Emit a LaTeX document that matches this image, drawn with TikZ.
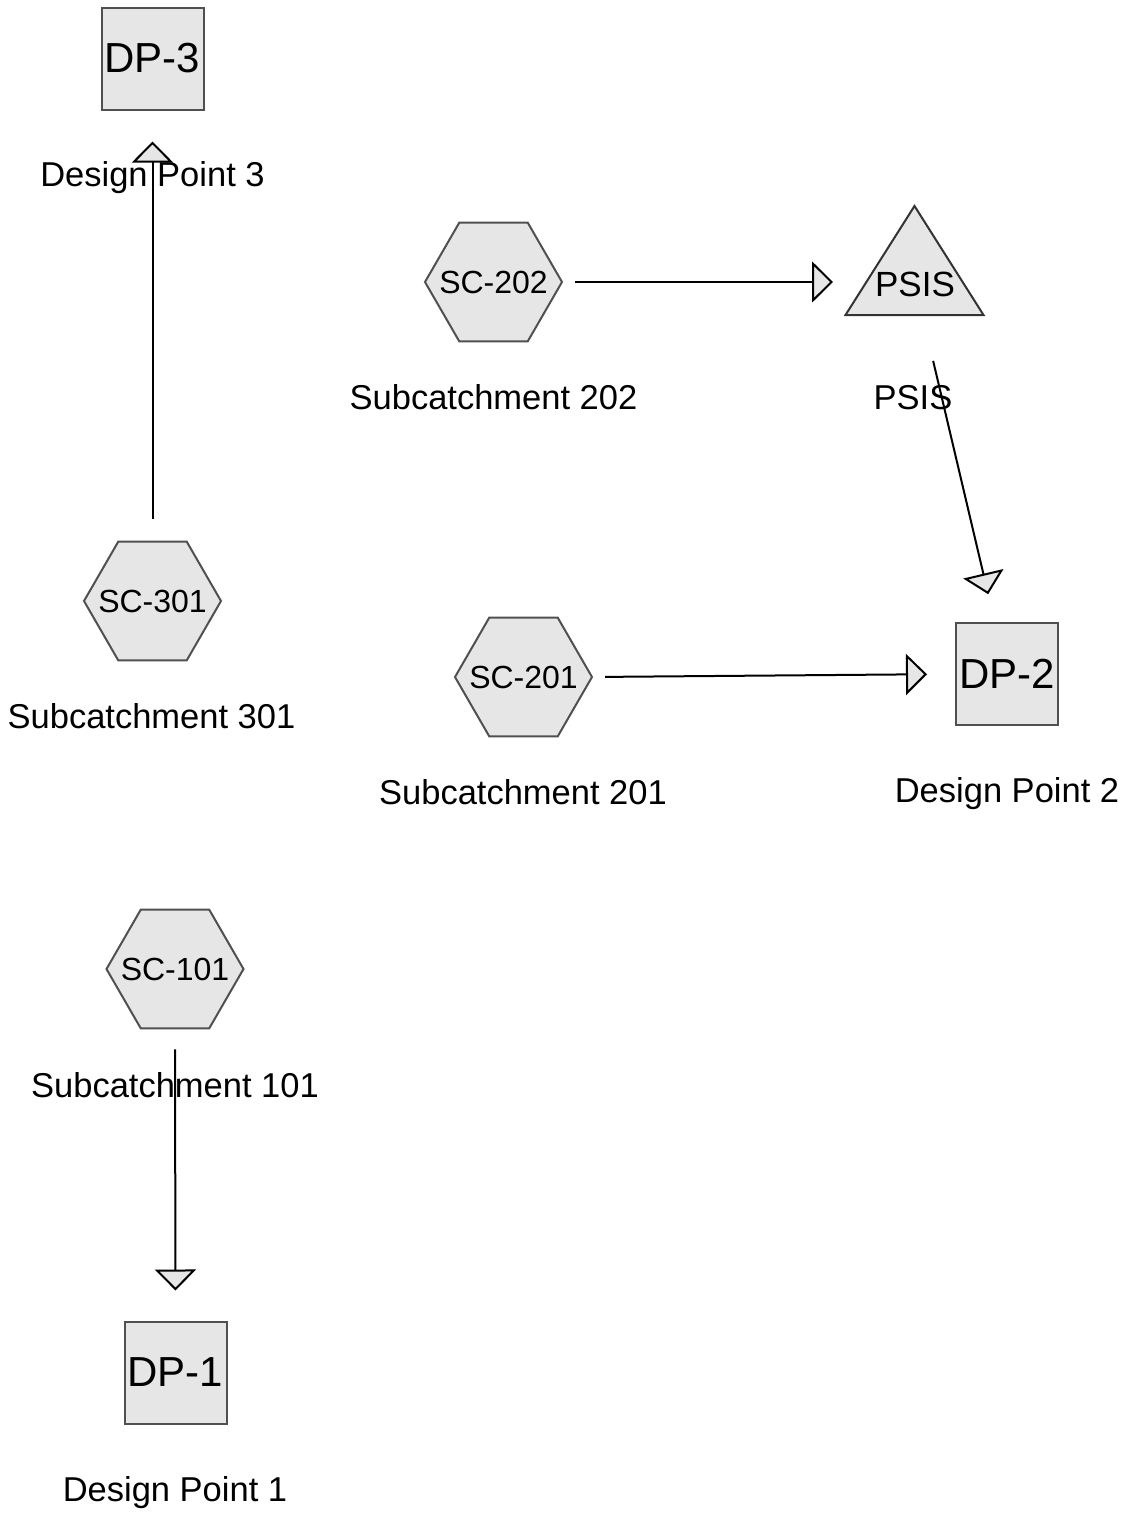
\documentclass[tikz,border=0pt]{standalone}
\usepackage{fontspec}
\setmainfont{Liberation Sans}
\usetikzlibrary{shapes.geometric,arrows.meta,calc}
\definecolor{shapefill}{HTML}{E6E6E6}
\definecolor{shapeline}{HTML}{505050}
\tikzset{
  dpbox/.style={draw=shapeline,fill=shapefill,line width=2pt,minimum size=102pt,inner sep=0pt,outer sep=0pt,font=\fontsize{42}{48}\selectfont},
  hexnode/.style={regular polygon,regular polygon sides=6,draw=shapeline,fill=shapefill,line width=2pt,minimum size=137pt,inner sep=0pt,outer sep=0pt,
    label={[font=\fontsize{32}{36}\selectfont,inner sep=0pt]center:#1}},
  lbl/.style={anchor=base,inner sep=0pt,font=\fontsize{34.5}{40}\selectfont},
  flow/.style={line width=2pt,draw=black,-{Triangle[length=21pt,width=41pt,fill=shapefill,line width=2pt]}},
}
\begin{document}
\begin{tikzpicture}[x=1pt,y=-1pt]
\useasboundingbox (0,0) rectangle (1127,1515);
% design points
\node[dpbox] (dp3) at (152.5,58.5) {DP-3};
\node[dpbox] (dp2) at (1007,674) {DP-2};
\node[dpbox] (dp1) at (175.5,1372.5) {DP-1};
% subcatchments
\node[hexnode=SC-202] (sc202) at (493.5,282) {};
\node[hexnode=SC-201] (sc201) at (523.5,677) {};
\node[hexnode=SC-301] (sc301) at (152.5,601) {};
\node[hexnode=SC-101] (sc101) at (175,969) {};
% PSIS triangle
\draw[draw=black!80,fill=shapefill,line width=2pt,line join=miter] (914.5,206) -- (983.5,315) -- (845.5,315) -- cycle;
\node[inner sep=0pt,font=\fontsize{35}{40}\selectfont] (psis) at (915,284) {PSIS};
% labels
\node[lbl] (l3) at (152.5,186) {Design Point 3};
\node[lbl] (l202) at (493.5,409) {Subcatchment 202};
\node[lbl] (lpsis) at (913,409) {PSIS};
\node[lbl] (l301) at (151.5,728) {Subcatchment 301};
\node[lbl] (l201) at (523,804) {Subcatchment 201};
\node[lbl] (l2) at (1007,802) {Design Point 2};
\node[lbl] (l101) at (175,1097) {Subcatchment 101};
\node[lbl] (l1) at (175,1501) {Design Point 1};
% connectors
\draw[flow,shorten <=23pt,shorten >=32pt] (sc301.north) -- (dp3.south);
\draw[flow,shorten <=13pt] (sc202.east) -- ($(sc202.east -| psis.center)+(-82,0)$);
\draw[flow,shorten <=79pt,shorten >=82pt] (psis.center) -- (dp2.center);
\draw[flow,shorten <=13pt,shorten >=29pt] (sc201.east) -- (dp2.west);
\draw[flow,shorten <=21pt,shorten >=31pt] (sc101.south) -- (dp1.north);
\end{tikzpicture}
\end{document}
